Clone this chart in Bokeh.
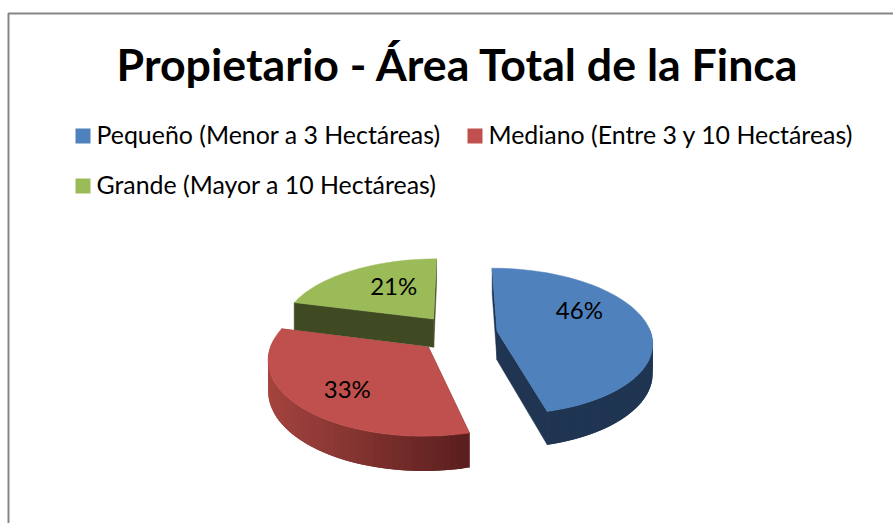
import math
from bokeh.plotting import figure
from bokeh.models import Range1d
from bokeh.core.properties import value
from bokeh.embed import file_html
from bokeh.resources import INLINE

title_text = "Propietario - Área Total de la Finca"
categories = ["Pequeño (Menor a 3 Hectáreas)", "Mediano (Entre 3 y 10 Hectáreas)", "Grande (Mayor a 10 Hectáreas)"]
percent = [46, 33, 21]
top_colors = ["#4f81bd", "#c0504d", "#9bbb59"]
wall_left = ["#1f3552", "#a5443f", "#3f4a22"]
wall_right = ["#1f3552", "#5a1f1e", "#3f4a22"]
cut_colors = ["#1f3552", "#7a2f2c", "#3f4a22"]

W, H = 893, 523
CX, CY = 457, 333
R, RATIO, PERSP, DEPTH, EXPLODE = 154, 0.47, 0.14, 29, 40
LABEL_FRAC = [0.636, 0.70, 0.572]
LABEL_TURN = [-19.4, -3.8, 6.7]
TEXT_LIFT = 2

p = figure(width=W, height=H, output_backend="svg", toolbar_location=None,
           x_range=Range1d(0, W), y_range=Range1d(H, 0), min_border=0,
           x_axis_type=None, y_axis_type=None, outline_line_color=None)
p.grid.visible = False
p.background_fill_color = "white"
p.border_fill_color = "white"

# chart frame
p.line([8, 8, W], [H, 13, 13], line_color="#868686", line_width=2)


def proj(X, Y, z=0.0):
    k = 1 / (1 - PERSP * Y / R)
    return CX + k * X, CY + k * (Y * RATIO + z)


def lerp(c1, c2, t):
    a = [int(c1[i:i + 2], 16) for i in (1, 3, 5)]
    b = [int(c2[i:i + 2], 16) for i in (1, 3, 5)]
    return "#%02x%02x%02x" % tuple(round(u + (v - u) * t) for u, v in zip(a, b))


total = sum(percent)
starts, acc = [], 0
for v in percent:
    starts.append(acc * 360 / total)
    acc += v
slices = []
for i, v in enumerate(percent):
    a0, a1 = starts[i], starts[i] + v * 360 / total
    mid = math.radians((a0 + a1) / 2)
    slices.append((i, a0, a1, EXPLODE * math.sin(mid), -EXPLODE * math.cos(mid)))

for i, a0, a1, ex, ey in [slices[2], slices[1], slices[0]]:
    n = max(2, int((a1 - a0) / 2))
    angs = [math.radians(a0 + (a1 - a0) * j / n) for j in range(n + 1)]
    rim = [(ex + R * math.sin(a), ey - R * math.cos(a)) for a in angs]
    # cut faces
    xs, ys, cs = [], [], []
    for pt in (rim[0], rim[-1]):
        q = [proj(ex, ey), proj(*pt), proj(pt[0], pt[1], DEPTH), proj(ex, ey, DEPTH)]
        xs.append([u[0] for u in q]); ys.append([u[1] for u in q]); cs.append(cut_colors[i])
    p.patches(xs, ys, fill_color=cs, line_color=cs, line_width=0.5)
    # outer wall: overlapping quads, painted one after another, so no seams show
    xmin, xmax = min(proj(*r)[0] for r in rim), max(proj(*r)[0] for r in rim)
    xs, ys, cs = [], [], []
    for j in range(n):
        if math.cos(angs[j]) > 0.05 and math.cos(angs[j + 1]) > 0.05:
            continue
        e = min(j + 2, n)
        q = [proj(*rim[j]), proj(*rim[e]), proj(*rim[e], DEPTH), proj(*rim[j], DEPTH)]
        xs.append([u[0] for u in q]); ys.append([u[1] for u in q])
        t = (q[0][0] - xmin) / (xmax - xmin)
        cs.append(lerp(wall_left[i], wall_right[i], t))
    p.patches(xs, ys, fill_color=cs, line_color=None)
    top = [proj(ex, ey)] + [proj(*r) for r in rim]
    p.patch([u[0] for u in top], [u[1] for u in top], fill_color=top_colors[i], line_color=top_colors[i], line_width=0.5)
    # data label
    m = math.radians((a0 + a1) / 2 + LABEL_TURN[i])
    lx, ly = proj(ex + LABEL_FRAC[i] * R * math.sin(m), ey - LABEL_FRAC[i] * R * math.cos(m))
    p.text([lx], [ly - TEXT_LIFT], text=[f"{percent[i]}%"], text_font=value("Lato"), text_font_size="24px",
           text_color="black", text_align="center", text_baseline="middle")

# title
p.text([458], [65 - TEXT_LIFT], text=[title_text], text_font=value("Lato"), text_font_style="bold",
       text_font_size="44.7px", text_color="black", text_align="center", text_baseline="middle")

# legend
leg_x = [75, 467, 75]
leg_y = [135.5, 135.5, 185.5]
for i, c in enumerate(categories):
    p.rect([leg_x[i] + 7.5], [leg_y[i]], width=15, height=15, fill_color=top_colors[i], line_color=None)
    p.text([leg_x[i] + 21], [leg_y[i] - TEXT_LIFT], text=[c], text_font=value("Lato"), text_font_size="24.9px",
           text_color="black", text_align="left", text_baseline="middle")

open("out.html", "w").write(file_html(p, INLINE))
